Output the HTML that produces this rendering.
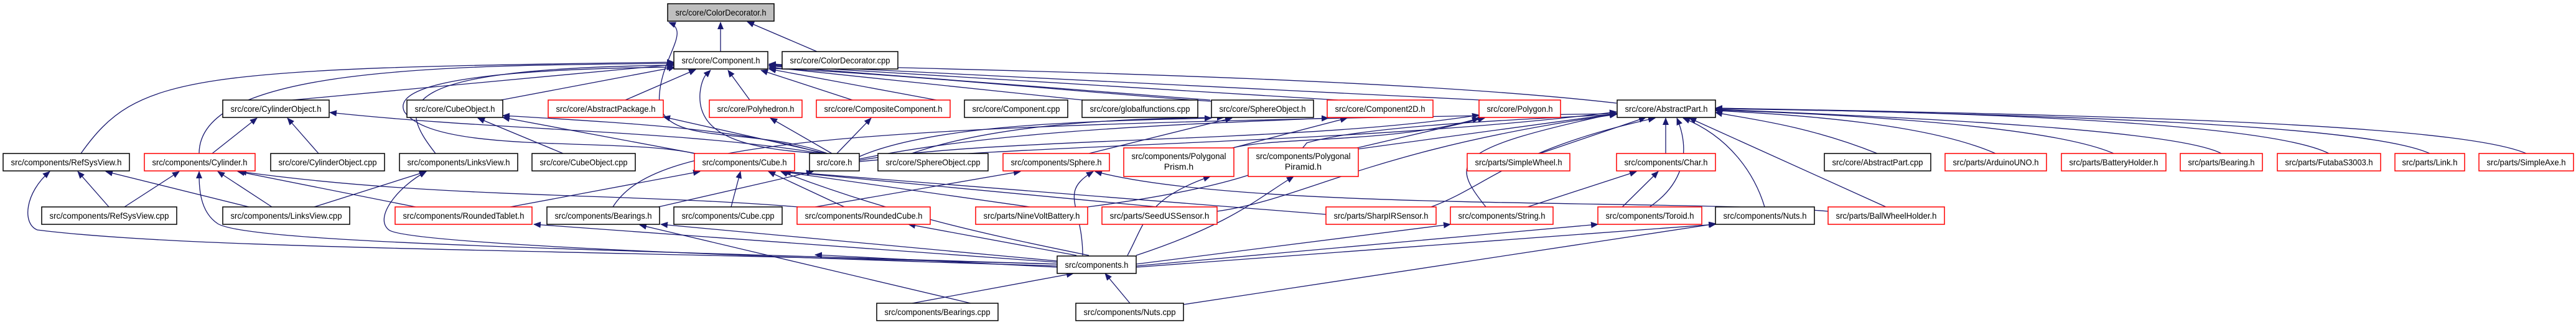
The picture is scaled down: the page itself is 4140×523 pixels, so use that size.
<!DOCTYPE html>
<html><head><meta charset="utf-8"><style>
html,body{margin:0;padding:0;background:#fff;}
svg{display:block;}
text{font-family:"Liberation Sans",Arial,sans-serif;font-size:14px;fill:#000;}
.e{fill:none;stroke:#191970;stroke-width:1.3;marker-end:url(#a);}
.nb{fill:#fff;stroke:#000;stroke-width:1.5;}
.nr{fill:#fff;stroke:#ff0000;stroke-width:1.5;}
</style></head><body>
<svg width="4140" height="523" viewBox="0 0 4140 523" xmlns="http://www.w3.org/2000/svg">
<defs><marker id="a" markerWidth="12" markerHeight="10" refX="11" refY="5" orient="auto" markerUnits="userSpaceOnUse"><path d="M0,0 L12,5 L0,10 z" fill="#191970"/></marker></defs>

<!-- edges -->
<g>
<path class="e" d="M1158,83 L1158,36"/>
<path class="e" d="M1313,83 L1201,35"/>
<path class="e" d="M1330,247 C1200,200 1050,240 1060,150 C1065,90 1110,50 1075,36"/>
<!-- to Component.h -->
<path class="e" d="M470,161 L1083,104"/>
<path class="e" d="M805,161 L1085,108"/>
<path class="e" d="M1005,161 L1118,112"/>
<path class="e" d="M1205,161 L1170,113"/>
<path class="e" d="M1370,161 L1223,113"/>
<path class="e" d="M1505,161 L1236,111"/>
<path class="e" d="M1740,161 L1236,108"/>
<path class="e" d="M1945,161 L1236,106"/>
<path class="e" d="M2150,161 L1236,105"/>
<path class="e" d="M2380,161 L1236,104"/>
<path class="e" d="M2598,166 C2200,120 1400,110 1236,103"/>
<path class="e" d="M130,247 C220,120 300,110 1083,100"/>
<path class="e" d="M320,247 C320,110 700,105 1083,102"/>
<path class="e" d="M700,247 C640,170 620,110 1083,105"/>
<path class="e" d="M1116,247 C1000,220 700,250 650,180 C620,120 900,110 1083,108"/>
<path class="e" d="M1320,247 C1200,240 1120,220 1125,150 C1128,120 1140,115 1142,113"/>
<path class="e" d="M2000,161 C2050,180 1500,120 1236,110"/>
<!-- CylinderObject.h -->
<path class="e" d="M341,247 L413,190"/>
<path class="e" d="M512,247 L462,190"/>
<path class="e" d="M1320,247 C1100,210 800,210 530,181"/>
<!-- CubeObject.h -->
<path class="e" d="M905,247 L768,190"/>
<path class="e" d="M1118,247 L808,189"/>
<path class="e" d="M1322,247 C1200,210 1050,200 808,186"/>
<!-- AbstractPackage, Polyhedron, CompositeComponent -->
<path class="e" d="M1328,247 L1066,188"/>
<path class="e" d="M1337,247 L1238,190"/>
<path class="e" d="M1345,247 L1400,190"/>
<!-- SphereObject.h etc -->
<path class="e" d="M1465,247 C1600,200 1800,190 1967,189"/>
<path class="e" d="M1750,247 L1980,190"/>
<path class="e" d="M1381,252 C1500,200 1750,195 1947,190"/>
<path class="e" d="M1381,256 C1600,210 1900,200 2135,190"/>
<path class="e" d="M1381,258 C1600,220 2100,230 2377,185"/>
<path class="e" d="M1981,238 L2165,190"/>
<path class="e" d="M2181,238 L2386,190"/>
<path class="e" d="M1981,238 C2050,220 2250,230 2377,190"/>
<path class="e" d="M1381,260 C1700,230 2200,230 2598,180"/>
<!-- AbstractPart.h from row3/row4 -->
<path class="e" d="M2181,240 L2598,183"/>
<path class="e" d="M2475,247 L2645,189"/>
<path class="e" d="M2677,247 L2677,190"/>
<path class="e" d="M3017,247 C2900,200 2800,190 2757,181"/>
<path class="e" d="M3207,247 C3100,200 2900,185 2757,178"/>
<path class="e" d="M3397,247 C3300,205 3000,185 2757,177"/>
<path class="e" d="M3570,247 C3500,210 3100,190 2757,176"/>
<path class="e" d="M3743,247 C3650,200 3200,180 2757,175"/>
<path class="e" d="M3905,247 C3800,200 3300,185 2757,174"/>
<path class="e" d="M4060,247 C3950,200 3400,185 2757,174"/>
<path class="e" d="M3031,333 L2715,190"/>
<path class="e" d="M2836,333 C2820,280 2780,220 2705,190"/>
<path class="e" d="M2651,333 C2700,300 2720,250 2695,190"/>
<path class="e" d="M2388,333 C2330,260 2330,240 2598,182"/>
<path class="e" d="M2300,333 C2390,300 2430,240 2660,190"/>
<path class="e" d="M1956,340 C2100,320 2200,240 2598,184"/>
<path class="e" d="M1748,333 C2000,300 2080,260 2100,230 C2200,200 2500,190 2598,184"/>
<path class="e" d="M985,333 C1050,230 1300,200 2598,183"/>
<!-- row3 -> left row: RefSysView.h -->
<path class="e" d="M175,333 L125,276"/>
<path class="e" d="M400,333 L170,276"/>
<path class="e" d="M1699,425 C800,400 300,400 60,370 C35,360 40,310 80,276"/>
<!-- Cylinder.h -->
<path class="e" d="M200,333 L288,276"/>
<path class="e" d="M437,333 L350,276"/>
<path class="e" d="M668,333 L382,276"/>
<path class="e" d="M1283,333 C1000,310 700,320 385,276"/>
<path class="e" d="M1699,425 C900,400 400,390 350,360 C320,340 320,300 320,276"/>
<!-- LinksView.h -->
<path class="e" d="M505,333 L685,276"/>
<path class="e" d="M1699,428 C1100,410 650,390 625,370 C600,350 640,300 685,276"/>
<!-- Cube.h -->
<path class="e" d="M820,333 L1125,276"/>
<path class="e" d="M1175,333 L1190,276"/>
<path class="e" d="M1357,333 L1235,276"/>
<path class="e" d="M1655,333 L1255,276"/>
<path class="e" d="M1860,333 L1258,276"/>
<path class="e" d="M2131,345 L1260,276"/>
<path class="e" d="M1750,411 C1600,380 1450,350 1255,276"/>
<!-- core.h -->
<path class="e" d="M1058,333 L1307,276"/>
<!-- Sphere.h -->
<path class="e" d="M1310,333 L1640,276"/>
<path class="e" d="M1740,411 C1740,330 1700,310 1757,276"/>
<path class="e" d="M2938,340 C2700,320 2000,340 1760,276"/>
<!-- Prism / Piramid -->
<path class="e" d="M1812,411 C1840,360 1840,320 1945,284"/>
<path class="e" d="M1826,411 C1980,360 2020,320 2079,284"/>
<!-- Char.h -->
<path class="e" d="M2455,333 L2630,276"/>
<path class="e" d="M2580,360 L2665,276"/>
<!-- components.h -> row4 -->
<path class="e" d="M1699,422 L858,361"/>
<path class="e" d="M1699,420 L1062,361"/>
<path class="e" d="M1730,411 L1460,361"/>
<path class="e" d="M1826,425 L2331,361"/>
<path class="e" d="M1826,428 L2568,361"/>
<path class="e" d="M1826,430 L2757,361"/>
<path class="e" d="M1699,430 L1310,410"/>
<!-- bottom row -->
<path class="e" d="M1466,488 L1725,440"/>
<path class="e" d="M1560,488 L1028,362"/>
<path class="e" d="M1816,488 L1776,440"/>
<path class="e" d="M1902,490 L2758,360"/>
</g>

<!-- nodes -->
<rect x="1073" y="6" width="171" height="28" fill="#bfbfbf" stroke="#000" stroke-width="1.5"/><text x="1158.5" y="25" text-anchor="middle" textLength="146" lengthAdjust="spacingAndGlyphs">src/core/ColorDecorator.h</text>
<rect class="nb" x="1083" y="83" width="151" height="28"/><text x="1158.5" y="102" text-anchor="middle" textLength="126" lengthAdjust="spacingAndGlyphs">src/core/Component.h</text>
<rect class="nb" x="1257" y="83" width="186" height="28"/><text x="1350" y="102" text-anchor="middle" textLength="161" lengthAdjust="spacingAndGlyphs">src/core/ColorDecorator.cpp</text>

<rect class="nb" x="358" y="161" width="171" height="28"/><text x="443.5" y="180" text-anchor="middle" textLength="146" lengthAdjust="spacingAndGlyphs">src/core/CylinderObject.h</text>
<rect class="nb" x="654" y="161" width="154" height="28"/><text x="731" y="180" text-anchor="middle" textLength="129" lengthAdjust="spacingAndGlyphs">src/core/CubeObject.h</text>
<rect class="nr" x="881" y="161" width="185" height="28"/><text x="973.5" y="180" text-anchor="middle" textLength="160" lengthAdjust="spacingAndGlyphs">src/core/AbstractPackage.h</text>
<rect class="nr" x="1140" y="161" width="149" height="28"/><text x="1214.5" y="180" text-anchor="middle" textLength="124" lengthAdjust="spacingAndGlyphs">src/core/Polyhedron.h</text>
<rect class="nr" x="1312" y="161" width="215" height="28"/><text x="1419.5" y="180" text-anchor="middle" textLength="190" lengthAdjust="spacingAndGlyphs">src/core/CompositeComponent.h</text>
<rect class="nb" x="1550" y="161" width="166" height="28"/><text x="1633" y="180" text-anchor="middle" textLength="141" lengthAdjust="spacingAndGlyphs">src/core/Component.cpp</text>
<rect class="nb" x="1739" y="161" width="186" height="28"/><text x="1832" y="180" text-anchor="middle" textLength="161" lengthAdjust="spacingAndGlyphs">src/core/globalfunctions.cpp</text>
<rect class="nb" x="1947" y="161" width="164" height="28"/><text x="2029" y="180" text-anchor="middle" textLength="139" lengthAdjust="spacingAndGlyphs">src/core/SphereObject.h</text>
<rect class="nr" x="2133" y="161" width="170" height="28"/><text x="2218" y="180" text-anchor="middle" textLength="145" lengthAdjust="spacingAndGlyphs">src/core/Component2D.h</text>
<rect class="nr" x="2377" y="161" width="131" height="28"/><text x="2442.5" y="180" text-anchor="middle" textLength="106" lengthAdjust="spacingAndGlyphs">src/core/Polygon.h</text>
<rect class="nb" x="2599" y="161" width="158" height="28"/><text x="2678" y="180" text-anchor="middle" textLength="133" lengthAdjust="spacingAndGlyphs">src/core/AbstractPart.h</text>

<rect class="nb" x="5" y="247" width="203" height="28"/><text x="106.5" y="266" text-anchor="middle" textLength="178" lengthAdjust="spacingAndGlyphs">src/components/RefSysView.h</text>
<rect class="nr" x="232" y="247" width="178" height="28"/><text x="321" y="266" text-anchor="middle" textLength="153" lengthAdjust="spacingAndGlyphs">src/components/Cylinder.h</text>
<rect class="nb" x="435" y="247" width="183" height="28"/><text x="526.5" y="266" text-anchor="middle" textLength="158" lengthAdjust="spacingAndGlyphs">src/core/CylinderObject.cpp</text>
<rect class="nb" x="642" y="247" width="190" height="28"/><text x="737" y="266" text-anchor="middle" textLength="165" lengthAdjust="spacingAndGlyphs">src/components/LinksView.h</text>
<rect class="nb" x="855" y="247" width="166" height="28"/><text x="938" y="266" text-anchor="middle" textLength="141" lengthAdjust="spacingAndGlyphs">src/core/CubeObject.cpp</text>
<rect class="nr" x="1116" y="247" width="161" height="28"/><text x="1196.5" y="266" text-anchor="middle" textLength="136" lengthAdjust="spacingAndGlyphs">src/components/Cube.h</text>
<rect class="nb" x="1301" y="247" width="80" height="28"/><text x="1341" y="266" text-anchor="middle" textLength="57" lengthAdjust="spacingAndGlyphs">src/core.h</text>
<rect class="nb" x="1411" y="247" width="177" height="28"/><text x="1499.5" y="266" text-anchor="middle" textLength="152" lengthAdjust="spacingAndGlyphs">src/core/SphereObject.cpp</text>
<rect class="nr" x="1612" y="247" width="171" height="28"/><text x="1697.5" y="266" text-anchor="middle" textLength="146" lengthAdjust="spacingAndGlyphs">src/components/Sphere.h</text>
<rect class="nr" x="1806" y="238" width="177" height="46"/><text x="1894.5" y="256" text-anchor="middle" textLength="152" lengthAdjust="spacingAndGlyphs">src/components/Polygonal</text><text x="1894.5" y="273" text-anchor="middle">Prism.h</text>
<rect class="nr" x="2006" y="238" width="177" height="46"/><text x="2094.5" y="256" text-anchor="middle" textLength="152" lengthAdjust="spacingAndGlyphs">src/components/Polygonal</text><text x="2094.5" y="273" text-anchor="middle">Piramid.h</text>
<rect class="nr" x="2358" y="247" width="165" height="28"/><text x="2440.5" y="266" text-anchor="middle" textLength="140" lengthAdjust="spacingAndGlyphs">src/parts/SimpleWheel.h</text>
<rect class="nr" x="2598" y="247" width="159" height="28"/><text x="2677.5" y="266" text-anchor="middle" textLength="134" lengthAdjust="spacingAndGlyphs">src/components/Char.h</text>
<rect class="nb" x="2932" y="247" width="171" height="28"/><text x="3017.5" y="266" text-anchor="middle" textLength="146" lengthAdjust="spacingAndGlyphs">src/core/AbstractPart.cpp</text>
<rect class="nr" x="3126" y="247" width="163" height="28"/><text x="3207.5" y="266" text-anchor="middle" textLength="138" lengthAdjust="spacingAndGlyphs">src/parts/ArduinoUNO.h</text>
<rect class="nr" x="3313" y="247" width="168" height="28"/><text x="3397" y="266" text-anchor="middle" textLength="143" lengthAdjust="spacingAndGlyphs">src/parts/BatteryHolder.h</text>
<rect class="nr" x="3504" y="247" width="132" height="28"/><text x="3570" y="266" text-anchor="middle" textLength="107" lengthAdjust="spacingAndGlyphs">src/parts/Bearing.h</text>
<rect class="nr" x="3660" y="247" width="166" height="28"/><text x="3743" y="266" text-anchor="middle" textLength="141" lengthAdjust="spacingAndGlyphs">src/parts/FutabaS3003.h</text>
<rect class="nr" x="3849" y="247" width="112" height="28"/><text x="3905" y="266" text-anchor="middle" textLength="89" lengthAdjust="spacingAndGlyphs">src/parts/Link.h</text>
<rect class="nr" x="3984" y="247" width="152" height="28"/><text x="4060" y="266" text-anchor="middle" textLength="127" lengthAdjust="spacingAndGlyphs">src/parts/SimpleAxe.h</text>

<rect class="nb" x="67" y="333" width="217" height="28"/><text x="175.5" y="352" text-anchor="middle" textLength="192" lengthAdjust="spacingAndGlyphs">src/components/RefSysView.cpp</text>
<rect class="nb" x="358" y="333" width="204" height="28"/><text x="460" y="352" text-anchor="middle" textLength="179" lengthAdjust="spacingAndGlyphs">src/components/LinksView.cpp</text>
<rect class="nr" x="635" y="333" width="220" height="28"/><text x="745" y="352" text-anchor="middle" textLength="195" lengthAdjust="spacingAndGlyphs">src/components/RoundedTablet.h</text>
<rect class="nb" x="879" y="333" width="181" height="28"/><text x="969.5" y="352" text-anchor="middle" textLength="156" lengthAdjust="spacingAndGlyphs">src/components/Bearings.h</text>
<rect class="nb" x="1083" y="333" width="174" height="28"/><text x="1170" y="352" text-anchor="middle" textLength="149" lengthAdjust="spacingAndGlyphs">src/components/Cube.cpp</text>
<rect class="nr" x="1281" y="333" width="214" height="28"/><text x="1388" y="352" text-anchor="middle" textLength="189" lengthAdjust="spacingAndGlyphs">src/components/RoundedCube.h</text>
<rect class="nr" x="1568" y="333" width="180" height="28"/><text x="1658" y="352" text-anchor="middle" textLength="155" lengthAdjust="spacingAndGlyphs">src/parts/NineVoltBattery.h</text>
<rect class="nr" x="1771" y="333" width="185" height="28"/><text x="1863.5" y="352" text-anchor="middle" textLength="160" lengthAdjust="spacingAndGlyphs">src/parts/SeedUSSensor.h</text>
<rect class="nr" x="2131" y="333" width="177" height="28"/><text x="2219.5" y="352" text-anchor="middle" textLength="152" lengthAdjust="spacingAndGlyphs">src/parts/SharpIRSensor.h</text>
<rect class="nr" x="2331" y="333" width="165" height="28"/><text x="2413.5" y="352" text-anchor="middle" textLength="140" lengthAdjust="spacingAndGlyphs">src/components/String.h</text>
<rect class="nr" x="2568" y="333" width="167" height="28"/><text x="2651.5" y="352" text-anchor="middle" textLength="142" lengthAdjust="spacingAndGlyphs">src/components/Toroid.h</text>
<rect class="nb" x="2757" y="333" width="159" height="28"/><text x="2836.5" y="352" text-anchor="middle" textLength="134" lengthAdjust="spacingAndGlyphs">src/components/Nuts.h</text>
<rect class="nr" x="2938" y="333" width="187" height="28"/><text x="3031.5" y="352" text-anchor="middle" textLength="162" lengthAdjust="spacingAndGlyphs">src/parts/BallWheelHolder.h</text>

<rect class="nb" x="1699" y="412" width="127" height="28"/><text x="1762.5" y="431" text-anchor="middle" textLength="102" lengthAdjust="spacingAndGlyphs">src/components.h</text>
<rect class="nb" x="1409" y="488" width="195" height="28"/><text x="1506.5" y="507" text-anchor="middle" textLength="170" lengthAdjust="spacingAndGlyphs">src/components/Bearings.cpp</text>
<rect class="nb" x="1729" y="488" width="173" height="28"/><text x="1815.5" y="507" text-anchor="middle" textLength="148" lengthAdjust="spacingAndGlyphs">src/components/Nuts.cpp</text>
</svg>
</body></html>
